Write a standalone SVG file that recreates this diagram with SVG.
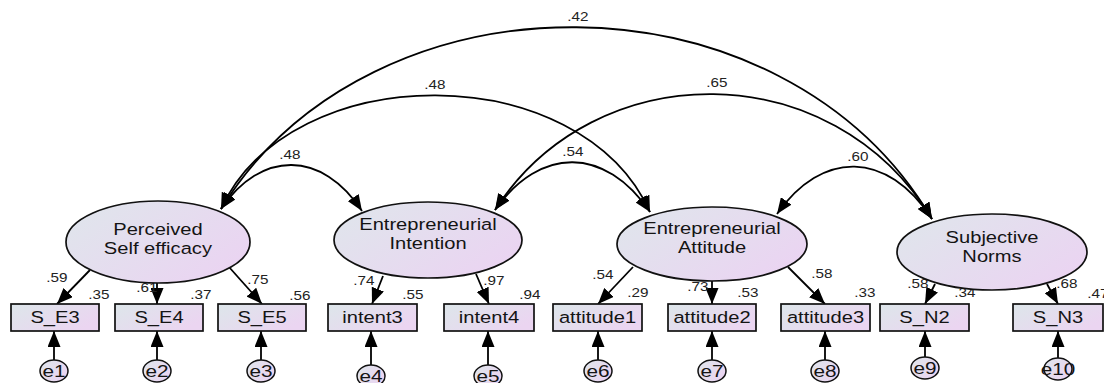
<svg xmlns="http://www.w3.org/2000/svg" width="1104" height="383" viewBox="0 0 1104 383">
<style>
text{font-family:"Liberation Sans",Arial,sans-serif;fill:#141414;text-anchor:middle;transform-box:fill-box;transform-origin:center;transform:scaleX(1.22)}
.big{font-size:16.5px}
.box{font-size:16.5px}
.err{font-size:17px}
.n{font-size:12.5px;fill:#222}
.lat{fill:url(#gl);stroke:#111;stroke-width:1.7}
.obs{fill:url(#gb);stroke:#111;stroke-width:1.7}
.e{fill:url(#gl);stroke:#111;stroke-width:1.5}
.c{fill:none;stroke:#000;stroke-width:1.8}
.cov{marker-start:url(#ah);marker-end:url(#ah)}
.one{marker-end:url(#ah)}
</style>
<defs>
<linearGradient id="gl" x1="0" y1="0.2" x2="1" y2="0.8">
<stop offset="0" stop-color="#e0e5ec"/>
<stop offset="1" stop-color="#ebd3f2"/>
</linearGradient>
<linearGradient id="gb" x1="0" y1="0" x2="1" y2="0.6">
<stop offset="0" stop-color="#dde6ea"/>
<stop offset="1" stop-color="#ebd5f1"/>
</linearGradient>
<marker id="ah" markerUnits="userSpaceOnUse" markerWidth="17" markerHeight="13" refX="16" refY="6.5" orient="auto-start-reverse">
<path d="M0,0 L16,6.5 L0,13 z" fill="#000"/>
</marker>
</defs>

<g id="connectors">
<path class="c cov" d="M221,209 C371,-35 782,-35 932,219"/>
<path class="c cov" d="M221,209 C291,57 580,57 650,212"/>
<path class="c cov" d="M221,209 C261,150 322,150 362,211"/>
<path class="c cov" d="M495,210 C540,146 605,146 650,212"/>
<path class="c cov" d="M495,210 C595,54 832,54 932,219"/>
<path class="c cov" d="M777,214 C822,150 887,150 932,219"/>
<line class="c one" x1="90" y1="270" x2="57" y2="304"/>
<line class="c one" x1="157" y1="283" x2="157" y2="304"/>
<line class="c one" x1="229" y1="267" x2="262" y2="304"/>
<line class="c one" x1="383" y1="276" x2="372" y2="304"/>
<line class="c one" x1="476" y1="274" x2="489" y2="304"/>
<line class="c one" x1="633" y1="267" x2="598" y2="304"/>
<line class="c one" x1="712" y1="280" x2="712" y2="304"/>
<line class="c one" x1="788" y1="267" x2="825" y2="304"/>
<line class="c one" x1="935" y1="284" x2="925" y2="304"/>
<line class="c one" x1="1047" y1="284" x2="1058" y2="304"/>
<line class="c one" x1="54" y1="360" x2="54" y2="331"/>
<line class="c one" x1="157" y1="360" x2="157" y2="331"/>
<line class="c one" x1="261" y1="360" x2="261" y2="331"/>
<line class="c one" x1="371" y1="365" x2="371" y2="331"/>
<line class="c one" x1="488" y1="365" x2="488" y2="331"/>
<line class="c one" x1="598" y1="360" x2="598" y2="331"/>
<line class="c one" x1="712" y1="360" x2="712" y2="331"/>
<line class="c one" x1="825" y1="360" x2="825" y2="331"/>
<line class="c one" x1="925" y1="357" x2="925" y2="331"/>
<line class="c one" x1="1058" y1="358" x2="1058" y2="331"/>
</g>

<g id="labels">
<text class="n" x="578" y="21">.42</text>
<text class="n" x="435" y="89">.48</text>
<text class="n" x="290" y="159">.48</text>
<text class="n" x="573" y="156">.54</text>
<text class="n" x="717" y="87">.65</text>
<text class="n" x="858" y="161">.60</text>
<text class="n" x="57" y="282">.59</text>
<text class="n" x="99" y="299">.35</text>
<text class="n" x="147" y="292">.61</text>
<text class="n" x="201" y="299">.37</text>
<text class="n" x="258" y="284">.75</text>
<text class="n" x="300" y="300">.56</text>
<text class="n" x="364" y="285">.74</text>
<text class="n" x="413" y="299">.55</text>
<text class="n" x="494" y="285">.97</text>
<text class="n" x="530" y="299">.94</text>
<text class="n" x="603" y="279">.54</text>
<text class="n" x="638" y="297">.29</text>
<text class="n" x="698" y="291">.73</text>
<text class="n" x="748" y="297">.53</text>
<text class="n" x="822" y="278">.58</text>
<text class="n" x="865" y="297">.33</text>
<text class="n" x="918" y="288">.58</text>
<text class="n" x="965" y="297">.34</text>
<text class="n" x="1067" y="288">.68</text>
<text class="n" x="1098" y="298">.47</text>
</g>

<g id="PSE"><ellipse class="lat" cx="158" cy="242" rx="92" ry="41"/><text class="big" x="158" y="235">Perceived</text><text class="big" x="158" y="254">Self efficacy</text></g>
<g id="EI"><ellipse class="lat" cx="428" cy="240" rx="94" ry="38"/><text class="big" x="428" y="230">Entrepreneurial</text><text class="big" x="428" y="249">Intention</text></g>
<g id="EA"><ellipse class="lat" cx="712" cy="244" rx="95" ry="37"/><text class="big" x="712" y="234">Entrepreneurial</text><text class="big" x="712" y="253">Attitude</text></g>
<g id="SN"><ellipse class="lat" cx="992" cy="252" rx="95" ry="38"/><text class="big" x="992" y="243">Subjective</text><text class="big" x="992" y="262">Norms</text></g>

<g id="S_E3"><rect class="obs" x="11" y="304" width="88" height="27"/><text class="box" x="55" y="323">S_E3</text></g>
<g id="S_E4"><rect class="obs" x="115" y="304" width="88" height="27"/><text class="box" x="159" y="323">S_E4</text></g>
<g id="S_E5"><rect class="obs" x="218" y="304" width="88" height="27"/><text class="box" x="262" y="323">S_E5</text></g>
<g id="intent3"><rect class="obs" x="328" y="304" width="89" height="27"/><text class="box" x="372.5" y="323">intent3</text></g>
<g id="intent4"><rect class="obs" x="444" y="304" width="90" height="27"/><text class="box" x="489" y="323">intent4</text></g>
<g id="attitude1"><rect class="obs" x="553" y="304" width="89" height="27"/><text class="box" x="597.5" y="323">attitude1</text></g>
<g id="attitude2"><rect class="obs" x="668" y="304" width="88" height="27"/><text class="box" x="712" y="323">attitude2</text></g>
<g id="attitude3"><rect class="obs" x="781" y="304" width="89" height="27"/><text class="box" x="825.5" y="323">attitude3</text></g>
<g id="S_N2"><rect class="obs" x="880" y="304" width="89" height="27"/><text class="box" x="924.5" y="323">S_N2</text></g>
<g id="S_N3"><rect class="obs" x="1013" y="304" width="90" height="27"/><text class="box" x="1058" y="323">S_N3</text></g>

<g id="e1"><ellipse class="e" cx="54" cy="371" rx="14" ry="11"/><text class="err" x="54" y="377">e1</text></g>
<g id="e2"><ellipse class="e" cx="157" cy="371" rx="14" ry="11"/><text class="err" x="157" y="377">e2</text></g>
<g id="e3"><ellipse class="e" cx="261" cy="371" rx="14" ry="11"/><text class="err" x="261" y="377">e3</text></g>
<g id="e4"><ellipse class="e" cx="371" cy="376" rx="14" ry="11"/><text class="err" x="371" y="382">e4</text></g>
<g id="e5"><ellipse class="e" cx="488" cy="376" rx="14" ry="11"/><text class="err" x="488" y="382">e5</text></g>
<g id="e6"><ellipse class="e" cx="598" cy="371" rx="14" ry="11"/><text class="err" x="598" y="377">e6</text></g>
<g id="e7"><ellipse class="e" cx="712" cy="371" rx="14" ry="11"/><text class="err" x="712" y="377">e7</text></g>
<g id="e8"><ellipse class="e" cx="825" cy="371" rx="14" ry="11"/><text class="err" x="825" y="377">e8</text></g>
<g id="e9"><ellipse class="e" cx="925" cy="368" rx="14" ry="11"/><text class="err" x="925" y="374">e9</text></g>
<g id="e10"><ellipse class="e" cx="1058" cy="369" rx="14" ry="11"/><text class="err" x="1058" y="375">e10</text></g>
</svg>
